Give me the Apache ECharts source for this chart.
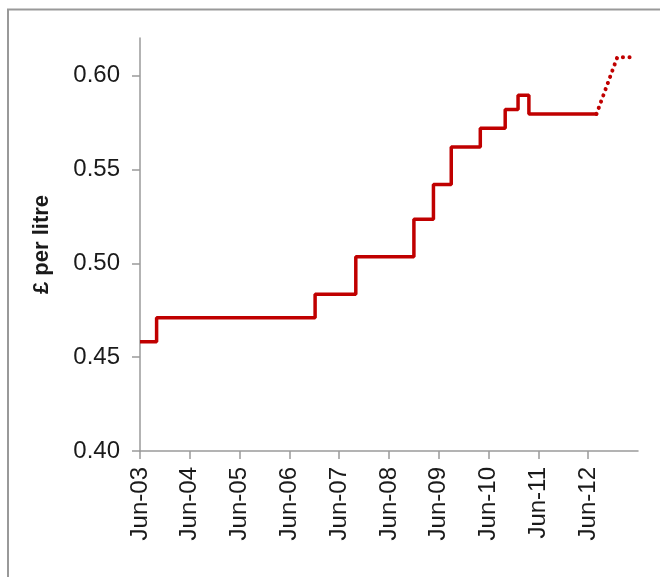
<!DOCTYPE html>
<html>
<head>
<meta charset="utf-8">
<script src="https://cdn.jsdelivr.net/npm/echarts@6/dist/echarts.min.js"></script>
<style>
  html, body { margin: 0; padding: 0; background: #fff; }
  #chart { width: 660px; height: 577px; }
</style>
</head>
<body>
<div id="chart"></div>
<script>
// fuel duty rate changes (date of change, £ per litre)
const changeDates = ['2003-06-01', '2003-10-01', '2006-12-07', '2007-10-01', '2008-12-01', '2009-04-23',
  '2009-09-01', '2010-04-01', '2010-10-01', '2011-01-04', '2011-03-23', '2012-08-01'];
const dutyRates = [0.4582, 0.4710, 0.4835, 0.5035, 0.5235, 0.5419,
  0.5619, 0.5719, 0.5819, 0.5895, 0.5795, 0.5795];

// planned rise (dotted)
const plannedDates = ['2012-08-01', '2013-01-01', '2013-05-01'];
const plannedRates = [0.5795, 0.6097, 0.6097];

const yTicks = [0.40, 0.45, 0.50, 0.55, 0.60];
const xTickLabels = ['Jun-03', 'Jun-04', 'Jun-05', 'Jun-06', 'Jun-07', 'Jun-08', 'Jun-09', 'Jun-10', 'Jun-11', 'Jun-12'];

// months since Jun 2003
function monthsFromStart(s) {
  const [y, m, d] = s.split('-').map(Number);
  return (y - 2003) * 12 + (m - 6) + (d - 1) / 31;
}

const actual = changeDates.map((d, i) => [monthsFromStart(d), dutyRates[i]]);
const planned = plannedDates.map((d, i) => [monthsFromStart(d), plannedRates[i]]);
const xTicks = xTickLabels.map((_, i) => i * 12);

const chart = echarts.init(document.getElementById('chart'));
const textColor = '#1a1a1a';
const axisColor = '#9a9a9a';

chart.setOption({
  animation: false,
  graphic: [{
    type: 'rect',
    shape: { x: 8, y: 9.5, width: 700, height: 620 },
    style: { fill: 'none', stroke: '#999', lineWidth: 2 },
    silent: true
  }],
  grid: { left: 140, right: 22, top: 38, bottom: 126 },
  xAxis: {
    type: 'value',
    min: 0,
    max: 120,
    splitLine: { show: false },
    axisLine: { lineStyle: { color: axisColor, width: 1.5 } },
    axisTick: { customValues: xTicks, length: 8, lineStyle: { color: axisColor, width: 1.5 } },
    axisLabel: {
      customValues: xTicks,
      rotate: 90,
      margin: 16,
      color: textColor,
      fontFamily: 'Liberation Sans, Arial, sans-serif',
      fontSize: 24,
      formatter: v => xTickLabels[Math.round(v / 12)] || ''
    }
  },
  yAxis: {
    type: 'value',
    min: 0.40,
    max: 0.62,
    interval: 0.05,
    name: '£ per litre',
    nameLocation: 'middle',
    nameGap: 87,
    nameTextStyle: {
      color: textColor,
      fontFamily: 'Liberation Sans, Arial, sans-serif',
      fontSize: 22,
      fontWeight: 'bold'
    },
    splitLine: { show: false },
    axisLine: { show: true, lineStyle: { color: axisColor, width: 1.5 } },
    axisTick: { show: true, customValues: yTicks, length: 8, lineStyle: { color: axisColor, width: 1.5 } },
    axisLabel: {
      customValues: yTicks,
      margin: 20,
      color: textColor,
      fontFamily: 'Liberation Sans, Arial, sans-serif',
      fontSize: 24,
      formatter: v => v.toFixed(2)
    }
  },
  series: [
    {
      type: 'line',
      step: 'end',
      data: actual,
      symbol: 'none',
      lineStyle: { color: '#c00000', width: 3.5 }
    },
    {
      type: 'line',
      data: planned,
      symbol: 'none',
      lineStyle: { color: '#c00000', width: 4, type: [0.1, 6.5], cap: 'round' }
    }
  ]
});
</script>
</body>
</html>
